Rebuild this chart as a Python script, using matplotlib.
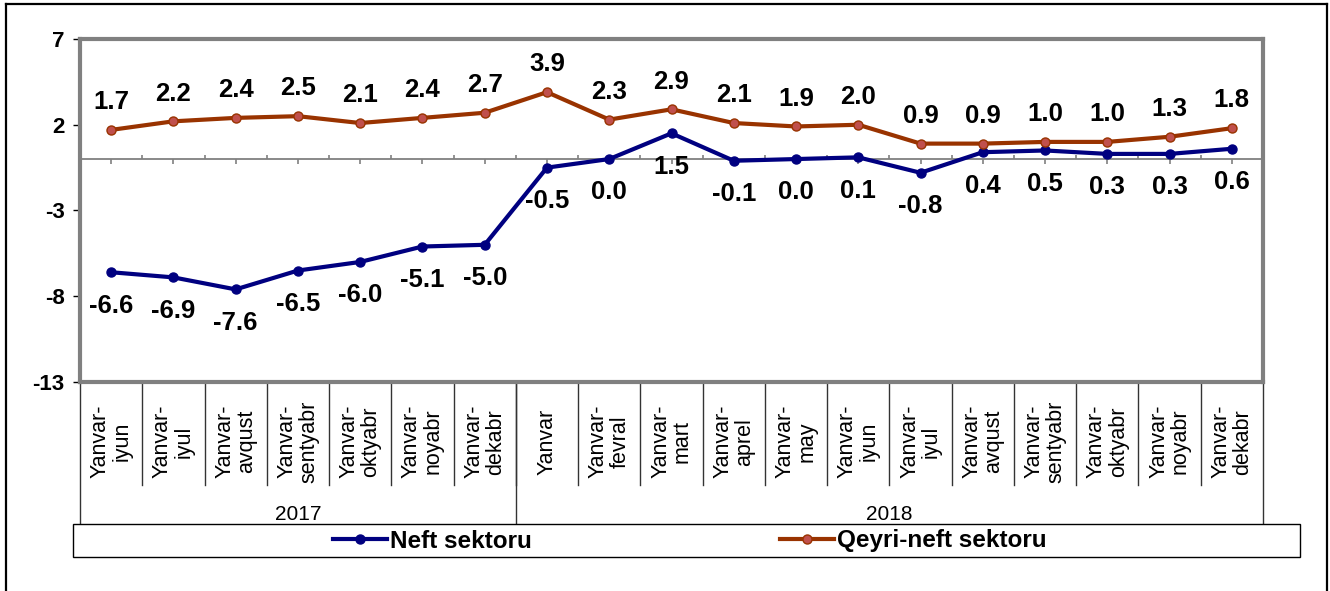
import matplotlib.pyplot as plt
from matplotlib.lines import Line2D
from matplotlib.patches import Rectangle
from matplotlib.transforms import blended_transform_factory

plt.rcParams['font.family'] = ['Liberation Sans', 'DejaVu Sans']

# Kateqoriyalar (2017: 7, 2018: 12)
categories = [
    "Yanvar-\niyun", "Yanvar-\niyul", "Yanvar-\navqust", "Yanvar-\nsentyabr",
    "Yanvar-\noktyabr", "Yanvar-\nnoyabr", "Yanvar-\ndekabr",
    "Yanvar", "Yanvar-\nfevral", "Yanvar-\nmart", "Yanvar-\naprel",
    "Yanvar-\nmay", "Yanvar-\niyun", "Yanvar-\niyul", "Yanvar-\navqust",
    "Yanvar-\nsentyabr", "Yanvar-\noktyabr", "Yanvar-\nnoyabr", "Yanvar-\ndekabr",
]
years = ["2017", "2018"]
year_counts = [7, 12]

neft = [-6.6, -6.9, -7.6, -6.5, -6.0, -5.1, -5.0,
        -0.5, 0.0, 1.5, -0.1, 0.0, 0.1, -0.8, 0.4, 0.5, 0.3, 0.3, 0.6]
qeyri_neft = [1.7, 2.2, 2.4, 2.5, 2.1, 2.4, 2.7,
              3.9, 2.3, 2.9, 2.1, 1.9, 2.0, 0.9, 0.9, 1.0, 1.0, 1.3, 1.8]
yticks = [7, 2, -3, -8, -13]

W, H = 1330, 591
fig = plt.figure(figsize=(W / 100, H / 100), dpi=100)
ax = fig.add_axes([80 / W, 1 - 382 / H, (1263 - 80) / W, (382 - 39) / H])

x = list(range(len(categories)))
l1, = ax.plot(x, neft, color='#000080', lw=3, marker='o', ms=6.5,
              mfc='#000080', mec='#000080', label='Neft sektoru', zorder=3)
l2, = ax.plot(x, qeyri_neft, color='#993300', lw=3, marker='o', ms=6.5,
              mfc='#C0504D', mec='#993300', label='Qeyri-neft sektoru', zorder=3)

# verilenlerin yazilari
for i, v in enumerate(qeyri_neft):
    ax.annotate(f"{v:.1f}", (i, v), xytext=(0, 20), textcoords='offset points',
                ha='center', va='center', fontsize=18.5, fontweight='bold')
for i, v in enumerate(neft):
    ax.annotate(f"{v:.1f}", (i, v), xytext=(0, -24), textcoords='offset points',
                ha='center', va='center', fontsize=18.5, fontweight='bold')

ax.set_xlim(-0.5, len(categories) - 0.5)
ax.set_ylim(-13, 7)
ax.set_yticks(yticks)
ax.set_yticklabels([str(t) for t in yticks], fontsize=16, fontweight='bold')
ax.tick_params(axis='y', length=5, width=1, color='black', pad=6)
ax.set_xticks([])
for s in ax.spines.values():
    s.set_color('#808080')
    s.set_linewidth(3)

# nol xetti ve onun uzerindeki isareler
ax.axhline(0, color='#808080', lw=1.3, zorder=2)
n = len(categories)
ax.vlines([i + 0.5 for i in range(n - 1)], 0, 0.25, color='#808080', lw=1.2)
ax.vlines(x, -0.3, 0, color='#808080', lw=1.2)

# kateqoriya yazilari
tr = blended_transform_factory(ax.transData, ax.transAxes)
for i, c in enumerate(categories):
    ax.text(i, -0.174, c, transform=tr, rotation=90, ha='center', va='center',
            multialignment='center', fontsize=15.5, linespacing=1.05)
for i in range(n - 1):
    ax.add_line(Line2D([i + 0.5, i + 0.5], [0, -0.30], transform=tr,
                       color='#333333', lw=1, clip_on=False))

start = -0.5
for yr, cnt in zip(years, year_counts):
    ax.add_line(Line2D([start, start], [0, -0.411], transform=tr,
                       color='#333333', lw=1, clip_on=False))
    ax.text(start + cnt / 2, -0.385, yr, transform=tr, ha='center',
            va='center', fontsize=15)
    start += cnt
ax.add_line(Line2D([start, start], [0, -0.411], transform=tr,
                   color='#333333', lw=1, clip_on=False))

# legend
fig.add_artist(Rectangle((73 / W, 1 - 557 / H), (1300 - 73) / W, 33 / H,
                         transform=fig.transFigure, fill=False, ec='black', lw=1))
fig.legend(handles=[l1, l2], loc='center', bbox_to_anchor=(690 / W, 1 - 541 / H),
           ncol=2, frameon=False, prop={'size': 17.5, 'weight': 'bold'},
           handlelength=2.2, handletextpad=0.15, columnspacing=10.2,
           borderpad=0)

# xarici cerceve
fig.add_artist(Line2D([6 / W, 6 / W], [0, 1 - 4 / H], transform=fig.transFigure,
                      color='black', lw=1.6))
fig.add_artist(Line2D([6 / W, 1327 / W], [1 - 4 / H, 1 - 4 / H],
                      transform=fig.transFigure, color='black', lw=1.6))
fig.add_artist(Line2D([1327 / W, 1327 / W], [0, 1 - 4 / H],
                      transform=fig.transFigure, color='black', lw=1.6))

fig.savefig('out.png', dpi=100)
